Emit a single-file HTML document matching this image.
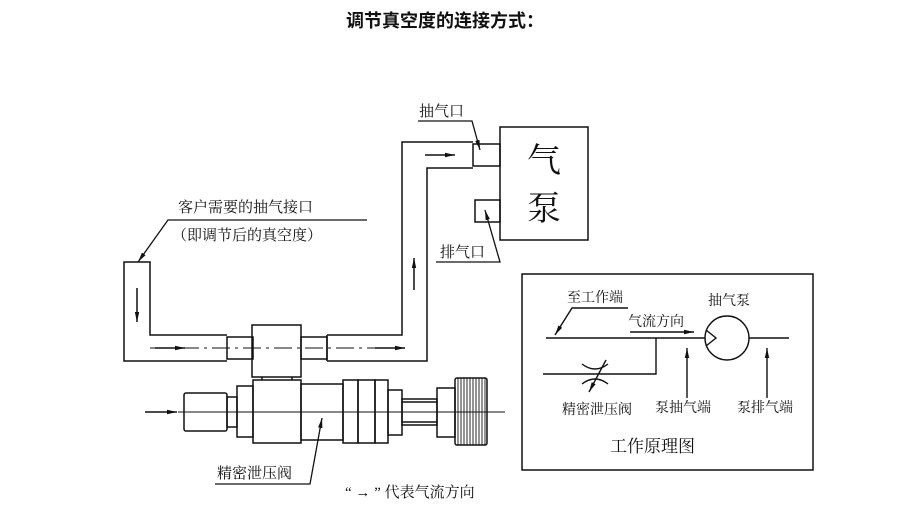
<!DOCTYPE html>
<html><head><meta charset="utf-8"><style>
html,body{margin:0;padding:0;background:#fff;}
svg{display:block;}
text{font-family:"Liberation Serif","Noto Serif CJK SC",serif;fill:#111;}
.t{font-family:"Liberation Sans","Noto Sans CJK SC",sans-serif;}
</style></head><body>
<svg width="900" height="510" viewBox="0 0 900 510" xmlns="http://www.w3.org/2000/svg">
<defs>
<marker id="ah" markerWidth="10" markerHeight="6" refX="10" refY="3" orient="auto" markerUnits="userSpaceOnUse"><path d="M0,0.8 L10,3 L0,5.2 Z" fill="#111"/></marker>
</defs>
<text class="t" x="445" y="27" font-size="18" font-weight="bold" text-anchor="middle">调节真空度的连接方式：</text>
<g stroke="#111" stroke-width="1.5" fill="none">
<path d="M227,361 H124 V262 H150 V335 H227"/>
<rect x="227" y="337" width="26" height="22"/>
<rect x="252" y="325" width="49" height="52"/>
<rect x="301" y="337" width="26" height="22"/>
<path d="M327,335 H402 V142 H473 M327,361 H427 V168 H473"/>
<path d="M327,335 V361"/>
<rect x="473" y="144" width="27" height="22"/>
<rect x="500" y="127" width="88" height="113"/>
<rect x="475" y="200" width="25" height="22"/>
<path d="M262,377 V380 M292,377 V380"/>
<rect x="184" y="393" width="43" height="38" rx="2"/>
<rect x="227" y="397" width="10" height="30"/>
<rect x="237" y="386" width="16" height="51"/>
<rect x="253" y="380" width="48" height="63"/>
<rect x="301" y="384" width="42" height="56"/>
<rect x="343" y="380" width="15" height="63"/>
<rect x="358" y="380" width="17" height="63"/>
<rect x="375" y="380" width="13" height="63"/>
<rect x="388" y="390" width="14" height="45"/>
<rect x="402" y="399" width="35" height="26"/>
<path d="M402,402 H437 M402,422 H437"/>
<rect x="437" y="388" width="18" height="49"/>
<rect x="455" y="378" width="32" height="67" rx="2"/>
</g>
<g stroke="#111" stroke-width="0.9">
<path d="M458,378V445M461,378V445M464,378V445M467,378V445M470,378V445M473,378V445M476,378V445M479,378V445M482,378V445M485,378V445"/>
</g>
<path d="M178,412 H505" stroke="#111" stroke-width="1"/>
<path d="M150,348 H400" stroke="#111" stroke-width="1" stroke-dasharray="18,5,3,5"/>
<g stroke="#111" stroke-width="1.5" marker-end="url(#ah)">
<line x1="137" y1="288" x2="137" y2="322"/>
<line x1="155" y1="348" x2="185" y2="348"/>
<line x1="375" y1="348" x2="405" y2="348"/>
<line x1="414" y1="290" x2="414" y2="258"/>
<line x1="425" y1="155" x2="455" y2="155"/>
<line x1="145" y1="412" x2="177" y2="412"/>
</g>
<g stroke="#111" stroke-width="1.3" fill="none">
<path d="M367,220 H168 L138,262" marker-end="url(#ah)"/>
<path d="M418,121 H472 L480,150" marker-end="url(#ah)"/>
<path d="M436,262 H500 L485,210" marker-end="url(#ah)"/>
<path d="M215,484 H310 L322,418" marker-end="url(#ah)"/>
</g>
<text x="178" y="212" font-size="15">客户需要的抽气接口</text>
<text x="172" y="240" font-size="15">（即调节后的真空度）</text>
<text x="419" y="116" font-size="15">抽气口</text>
<text x="440" y="257" font-size="15">排气口</text>
<text x="544" y="172" font-size="34" text-anchor="middle">气</text>
<text x="544" y="220" font-size="34" text-anchor="middle">泵</text>
<text x="217" y="478" font-size="15">精密泄压阀</text>
<text x="345" y="497" font-size="15">“ → ” 代表气流方向</text>
<rect x="522" y="274" width="291" height="196" fill="none" stroke="#111" stroke-width="1.5"/>
<g stroke="#111" stroke-width="1.4" fill="none">
<path d="M546,338 H705 M749,338 H789"/>
<path d="M543,374 H656 V338"/>
<circle cx="727" cy="338" r="22"/>
<path d="M706,330 L716,338 L706,346"/>
<path d="M582,364 Q595,374 608,364 M582,384 Q595,374 608,384"/>
<path d="M628,308 H572 L555,335" marker-end="url(#ah)"/>
<path d="M630,332 H694" marker-end="url(#ah)"/>
<path d="M606,360 L589,392" marker-end="url(#ah)"/>
<path d="M687,398 V348" marker-end="url(#ah)"/>
<path d="M767,398 V348" marker-end="url(#ah)"/>
</g>
<text x="567" y="302" font-size="14">至工作端</text>
<text x="628" y="326" font-size="14">气流方向</text>
<text x="708" y="305" font-size="14">抽气泵</text>
<text x="562" y="414" font-size="14">精密泄压阀</text>
<text x="655" y="412" font-size="14">泵抽气端</text>
<text x="737" y="412" font-size="14">泵排气端</text>
<text x="610" y="452" font-size="17">工作原理图</text>
</svg>
</body></html>
